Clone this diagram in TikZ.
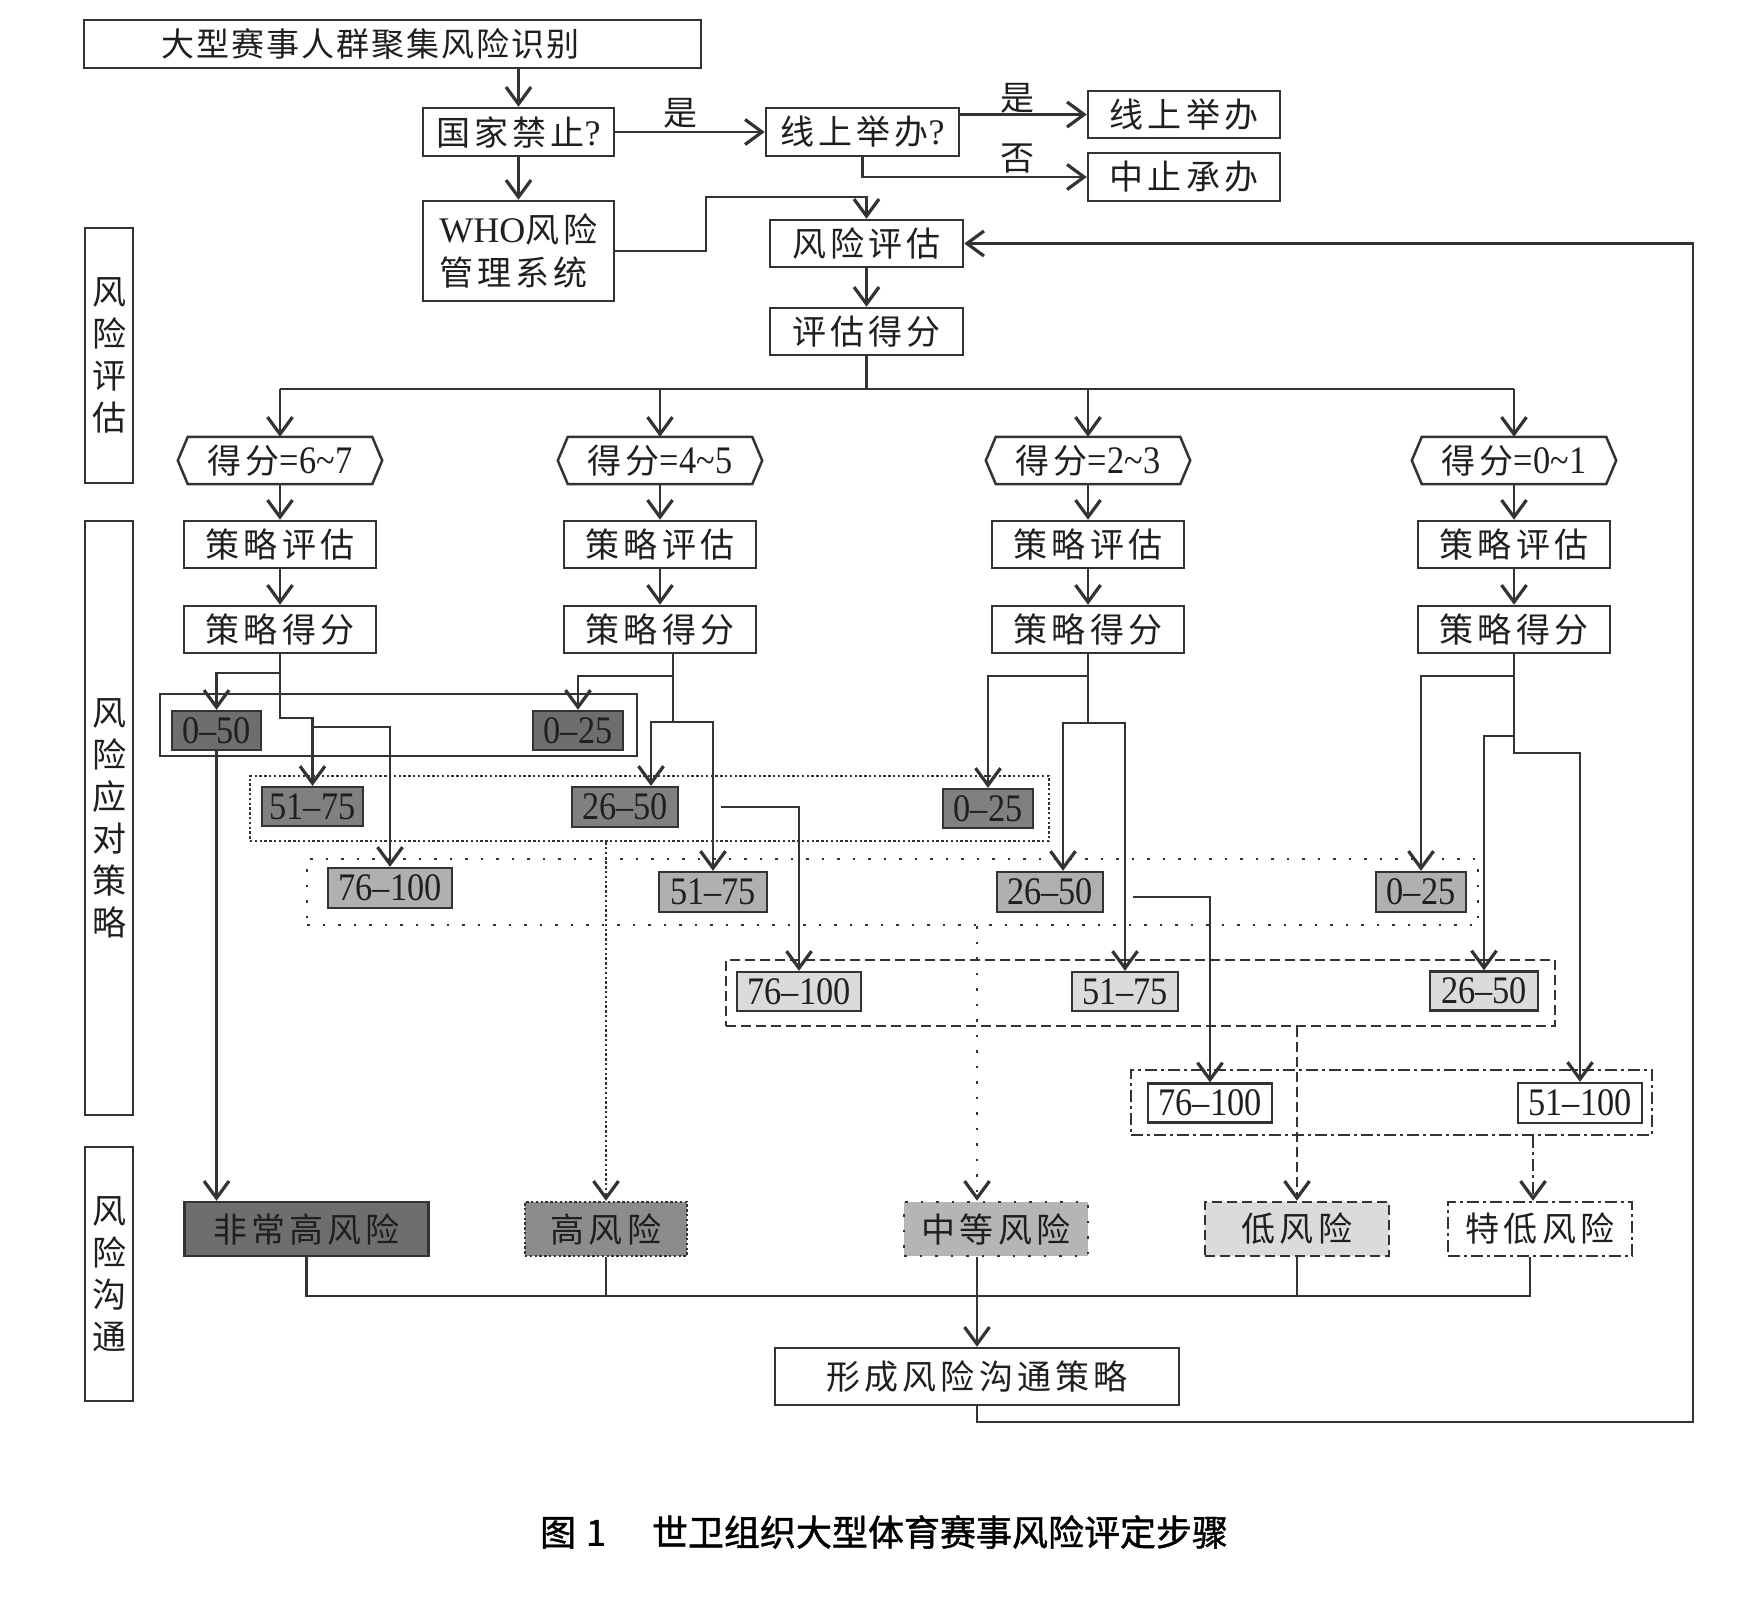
\documentclass[tikz,border=0pt]{standalone}
\usepackage{fontspec}
\setmainfont{Liberation Serif}
\newfontfamily\cjkfam[LetterSpace=12]{Noto Sans CJK SC}
\newfontfamily\cjktopfam[LetterSpace=6]{Noto Sans CJK SC}
\newfontfamily\capfam[FakeBold=1.2]{Noto Sans CJK SC}
\newfontfamily\numfam[FakeStretch=0.88]{Liberation Serif}
\usetikzlibrary{arrows.meta}
\definecolor{lc}{gray}{0.2}
\definecolor{tc}{gray}{0.12}
\definecolor{fa}{gray}{0.43}
\definecolor{fb}{gray}{0.50}
\definecolor{fbk}{gray}{0.55}
\definecolor{fc}{gray}{0.69}
\definecolor{fck}{gray}{0.71}
\definecolor{fd}{gray}{0.86}
\newcommand\cj{\cjkfam\fontsize{34pt}{40pt}\selectfont}
\newcommand\cjt{\cjktopfam\fontsize{33pt}{40pt}\selectfont}
\newcommand\cjv{\cjkfam\fontsize{34pt}{42pt}\selectfont}
\newcommand\cjw{\cjkfam\fontsize{34pt}{43pt}\selectfont}
\newcommand\whof{\rmfamily\fontsize{36pt}{43pt}\selectfont}
\newcommand\nm{\numfam\fontsize{39pt}{40pt}\selectfont}
\newcommand\qm{{\rmfamily\fontsize{36pt}{40pt}\selectfont ?}}
\newcommand\tl{\char"007E\relax}
\begin{document}
\begin{tikzpicture}[x=1pt,y=-1pt,
  lnk/.style={draw=lc, line width=2.3pt},
  arw/.style={lnk, -{Straight Barb[length=17pt,width=25pt,line width=3.2pt]}},
  boxs/.style={draw=lc, line width=2.5pt, inner sep=0pt, text=tc, font=\cj},
  numbox/.style={draw=lc, line width=2.3pt, inner sep=0pt, text=tc, font=\nm},
  grp/.style={draw=lc, line width=2.3pt, inner sep=0pt},
  hexl/.style={draw=lc, line width=2.5pt},
  plain/.style={inner sep=0pt, text=tc, font=\cj},
  sz/.style 2 args={minimum width=#1, minimum height=#2},
  densedot/.style={dash pattern=on 2.4pt off 2.4pt},
  sparsedot/.style={dash pattern=on 2.5pt off 13pt},
  dashp/.style={dash pattern=on 10pt off 5pt},
  dashdotp/.style={dash pattern=on 12pt off 4pt on 3pt off 4pt},
]
\fill[white] (0,0) rectangle (1760,1601);
\useasboundingbox (0,0) rectangle (1760,1601);

% ---------- top part ----------
\node[boxs, sz={617}{48}, font=\cjt] (top) at (392.5,44) {\hspace*{-44pt}大型赛事人群聚集风险识别};
\node[boxs, sz={191}{48}] (ban) at (518.5,132) {国家禁止\qm};
\node[boxs, sz={193}{48}] (onl) at (862.5,132) {线上举办\qm};
\node[boxs, sz={192}{47}] (ol) at (1184,114.5) {线上举办};
\node[boxs, sz={192}{48}] (stp) at (1184,177) {中止承办};
\node[boxs, sz={191}{100}, align=left, font=\cjw] (who) at (518.5,251) {{\whof WHO}风险\\管理系统};
\node[boxs, sz={193}{47}] (ra) at (866.5,243.5) {风险评估};
\node[boxs, sz={193}{47}] (sc) at (866.5,331.5) {评估得分};
\node[plain] (y1) at (680,113) {是};
\node[plain] (y2) at (1017,98) {是};
\node[plain] (n1) at (1017,159) {否};

\draw[arw] (top.south -| ban.north) -- (ban.north);
\draw[arw] (ban.east) -- (onl.west);
\draw[arw] (onl.east |- ol.west) -- (ol.west);
\draw[arw] (onl.south) |- (stp.west);
\draw[arw] (ban.south) -- (who.north);
\coordinate (wj) at (706,197);
\draw[arw] (who.east) -| (wj) -| (ra.north);
\draw[arw] (ra.south) -- (sc.north);

% ---------- side labels ----------
\node[boxs, sz={48}{255}, align=center, font=\cjv] (L1) at (109,355.5) {风\\险\\评\\估};
\node[boxs, sz={48}{594}, align=center, font=\cjv] (L2) at (109,818) {风\\险\\应\\对\\策\\略};
\node[boxs, sz={48}{254}, align=center, font=\cjv] (L3) at (109,1274) {风\\险\\沟\\通};

% ---------- score columns ----------
\node[plain, sz={204}{47}] (h1) at (280,460.5) {得分{\nm =6\tl 7}};
\node[plain, sz={204}{47}] (h2) at (660,460.5) {得分{\nm =4\tl 5}};
\node[plain, sz={204}{47}] (h3) at (1088,460.5) {得分{\nm =2\tl 3}};
\node[plain, sz={204}{47}] (h4) at (1514,460.5) {得分{\nm =0\tl 1}};
\foreach \n in {h1,h2,h3,h4}
  \draw[hexl] (\n.west) -- ([xshift=10pt]\n.north west) -- ([xshift=-10pt]\n.north east) -- (\n.east) -- ([xshift=-10pt]\n.south east) -- ([xshift=10pt]\n.south west) -- cycle;

\node[boxs, sz={192}{47}] (se1) at (280,544.5) {策略评估};
\node[boxs, sz={192}{47}] (se2) at (660,544.5) {策略评估};
\node[boxs, sz={192}{47}] (se3) at (1088,544.5) {策略评估};
\node[boxs, sz={192}{47}] (se4) at (1514,544.5) {策略评估};
\node[boxs, sz={192}{47}] (ss1) at (280,629.5) {策略得分};
\node[boxs, sz={192}{47}] (ss2) at (660,629.5) {策略得分};
\node[boxs, sz={192}{47}] (ss3) at (1088,629.5) {策略得分};
\node[boxs, sz={192}{47}] (ss4) at (1514,629.5) {策略得分};

\draw[lnk] (sc.south) -- (sc.south |- 0,389);
\draw[lnk] (h1.north |- 0,389) -- (h4.north |- 0,389);
\foreach \n in {h1,h2,h3,h4} \draw[arw] (\n.north |- 0,389) -- (\n.north);
\foreach \i in {1,2,3,4} {
  \draw[arw] (h\i.south) -- (se\i.north);
  \draw[arw] (se\i.south) -- (ss\i.north);
}

% ---------- group frames ----------
\node[grp, sz={477}{62}] (G1) at (398.5,725) {};
\node[grp, densedot, line width=2.5pt, sz={799}{65}] (G2) at (649.5,808.5) {};
\node[grp, sparsedot, line width=2.5pt, sz={1171}{66}] (G3) at (892.5,892) {};
\node[grp, dashp, sz={829}{66}] (G4) at (1140.5,993) {};
\node[grp, dashdotp, sz={521}{65}] (G5) at (1391.5,1102.5) {};

% ---------- range boxes ----------
\node[numbox, fill=fa, sz={89}{39}] (r1a) at (216.5,730.5) {0–50};
\node[numbox, fill=fa, sz={90}{39}] (r1b) at (578,730.5) {0–25};
\node[numbox, fill=fb, sz={101}{39}] (r2a) at (312.5,806.5) {51–75};
\node[numbox, fill=fb, sz={106}{40}] (r2b) at (625,807) {26–50};
\node[numbox, fill=fb, sz={90}{39}] (r2c) at (988,808.5) {0–25};
\node[numbox, fill=fc, sz={124}{40}] (r3a) at (390,888) {76–100};
\node[numbox, fill=fc, sz={108}{40}] (r3b) at (713,892) {51–75};
\node[numbox, fill=fc, sz={106}{40}] (r3c) at (1050,892) {26–50};
\node[numbox, fill=fc, sz={90}{40}] (r3d) at (1421,892) {0–25};
\node[numbox, fill=fd, sz={124}{39}] (r4a) at (799,991.5) {76–100};
\node[numbox, fill=fd, sz={106}{39}] (r4b) at (1125,991.5) {51–75};
\node[numbox, fill=fd, sz={108}{39}] (r4c) at (1484,991) {26–50};
\node[numbox, fill=white, sz={124}{39}] (r5a) at (1210,1103) {76–100};
\node[numbox, fill=white, sz={124}{40}] (r5b) at (1580,1103) {51–100};

% column 1
\draw[arw] (ss1.south) -- ++(0,19) -| (r1a.north);
\draw[arw] (ss1.south) -- ++(0,64) -| (r2a.north);
\draw[arw] (r2a.north |- 0,727) -| (r3a.north);
% column 2
\draw[arw] ([xshift=13pt]ss2.south) -- ++(0,22) -| (r1b.north);
\draw[arw] ([xshift=13pt]ss2.south) -- ++(0,68) -| ([xshift=26pt]r2b.north);
\draw[arw] ([xshift=13pt]ss2.south) -- ++(0,68) -| (r3b.north);
\draw[arw] ([xshift=42pt]r2b.east) -| (r4a.north);
% column 3
\draw[arw] (ss3.south) -- ++(0,22) -| (r2c.north);
\draw[arw] (ss3.south) -- ++(0,69) -| ([xshift=13pt]r3c.north);
\draw[arw] (ss3.south) -- ++(0,69) -| (r4b.north);
\draw[arw] ([xshift=29pt,yshift=-5pt]r3c.east) -| (r5a.north);
% column 4
\draw[arw] (ss4.south) -- ++(0,22) -| (r3d.north);
\draw[arw] (ss4.south) -- ++(0,82) -| (r4c.north);
\draw[arw] (ss4.south) -- ++(0,99) -| (r5b.north);

% ---------- risk levels ----------
\node[boxs, fill=fa, sz={244}{54}] (k1) at (306.5,1229) {非常高风险};
\node[boxs, fill=fbk, densedot, sz={162}{54}] (k2) at (606,1229) {高风险};
\node[boxs, fill=fck, sparsedot, sz={184}{54}] (k3) at (996,1229) {中等风险};
\node[boxs, fill=fd, dashp, sz={184}{54}] (k4) at (1297,1229) {低风险};
\node[boxs, fill=white, dashdotp, sz={184}{54}] (k5) at (1540,1229) {特低风险};
\node[boxs, sz={404}{57}] (fin) at (977,1376.5) {形成风险沟通策略};

\draw[arw] (r1a.south) -- (r1a.south |- k1.north);
\draw[arw, densedot, line width=1.8pt] (k2.north |- G2.south) -- (k2.north);
\draw[arw, sparsedot, line width=2.2pt] (fin.north |- G3.south) -- (fin.north |- k3.north);
\draw[arw, dashp] (k4.north |- G4.south) -- (k4.north);
\draw[arw, dashdotp] ([xshift=-7pt]k5.north |- G5.south) -- ([xshift=-7pt]k5.north);

\coordinate (bl) at (0,1296);
\draw[lnk] (k1.south) |- ([xshift=-10pt]k5.south |- bl) -- ([xshift=-10pt]k5.south);
\draw[lnk] (k2.south) -- (k2.south |- bl);
\draw[lnk] (fin.north |- k3.south) -- (fin.north |- bl);
\draw[lnk] (k4.south) -- (k4.south |- bl);
\draw[arw] (fin.north |- bl) -- (fin.north);

\coordinate (fbc) at (1693,1422);
\draw[arw] (fin.south) |- (fbc) |- (ra.east);

% ---------- caption ----------
\node[inner sep=0pt, text=black, font=\capfam\fontsize{36pt}{40pt}\selectfont] (cap) at (884,1532) {图\hspace{10pt}1\hspace{46pt}世卫组织大型体育赛事风险评定步骤};
\end{tikzpicture}
\end{document}
